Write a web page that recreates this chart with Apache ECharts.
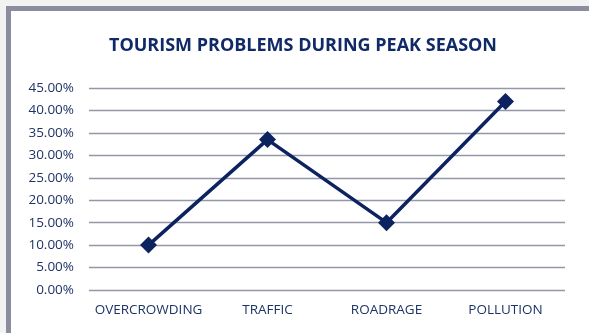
<!DOCTYPE html>
<html>
<head>
<meta charset="utf-8">
<script src="https://cdn.jsdelivr.net/npm/echarts@6/dist/echarts.min.js"></script>
<style>
  html, body { margin: 0; padding: 0; background: #f2f2f2; }
  #frame {
    position: absolute; left: 6px; top: 6px; width: 578px; height: 327px;
    border-left: 5px solid #8b8d9e; border-top: 5px solid #8b8d9e;
    background: #ffffff;
  }
  #chart { position: absolute; left: 0; top: 0; width: 589px; height: 333px; }
</style>
</head>
<body>
<div id="frame"></div>
<div id="chart"></div>
<script>
// Share of respondents naming each problem during peak season
const categories = ['OVERCROWDING', 'TRAFFIC', 'ROADRAGE', 'POLLUTION'];
const shares = [0.10, 0.335, 0.15, 0.42];
const yMin = 0, yMax = 0.45, yStep = 0.05;

const navy = '#0c2360';
const textColor = '#1e3366';

const chart = echarts.init(document.getElementById('chart'), null, { renderer: 'canvas' });
chart.setOption({
  backgroundColor: 'transparent',
  animation: false,
  title: {
    text: 'TOURISM PROBLEMS DURING PEAK SEASON',
    left: 298, top: 32, textAlign: 'center',
    textStyle: { fontFamily: 'Open Sans', fontWeight: 'bold', fontSize: 18, color: '#0f2a66' }
  },
  grid: { left: 89, right: 24, top: 88, bottom: 43, containLabel: false },
  xAxis: {
    type: 'category',
    data: categories,
    boundaryGap: true,
    axisLine: { show: false },
    axisTick: { show: false },
    axisLabel: { color: textColor, fontFamily: 'Open Sans', fontSize: 13.5, margin: 13, interval: 0 }
  },
  yAxis: {
    type: 'value',
    min: yMin, max: yMax, interval: yStep,
    axisLine: { show: false },
    axisTick: { show: false },
    splitLine: { lineStyle: { color: '#9597a8', width: 1.3 } },
    axisLabel: {
      color: textColor, fontFamily: 'Open Sans', fontSize: 13.5, margin: 15,
      formatter: v => (v * 100).toFixed(2) + '%'
    }
  },
  series: [{
    type: 'line',
    data: shares,
    symbol: 'diamond',
    symbolSize: 17,
    lineStyle: { color: navy, width: 3.5 },
    itemStyle: { color: navy },
    z: 5
  }]
});
</script>
</body>
</html>
